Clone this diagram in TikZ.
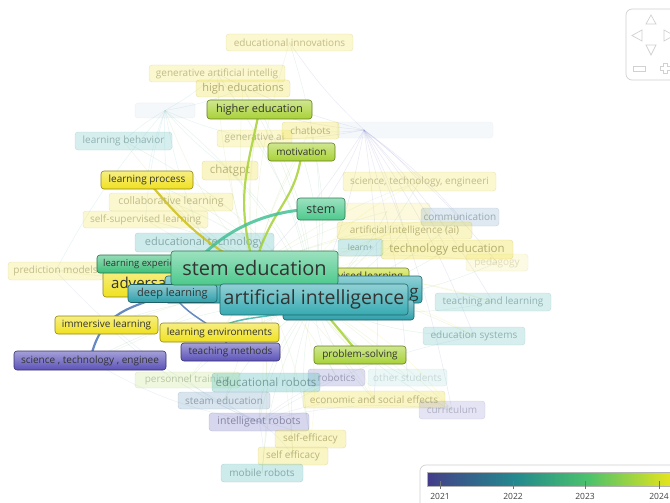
\documentclass[tikz,border=0pt]{standalone}
\usepackage{fontspec}
\setmainfont{Open Sans}
\usetikzlibrary{calc}
\definecolor{cY}{HTML}{F0E11E}
\definecolor{cL}{HTML}{A8D236}
\definecolor{cSup}{HTML}{C5DB30}
\definecolor{cG}{HTML}{4CC98C}
\definecolor{cLE}{HTML}{3EBF7A}
\definecolor{cT}{HTML}{36AAB2}
\definecolor{cDL}{HTML}{2E9FAA}
\definecolor{cP}{HTML}{5B52B8}
\definecolor{fy}{HTML}{F0E040}
\definecolor{ft}{HTML}{5FBFBF}
\definecolor{fp}{HTML}{7A7AC8}
\definecolor{fb}{HTML}{7FA8C8}
\definecolor{fg}{HTML}{C0E480}
\definecolor{vb0}{HTML}{433A8A}
\definecolor{vb1}{HTML}{3F4A8A}
\definecolor{vb2}{HTML}{23898E}
\definecolor{vb3}{HTML}{4CC26C}
\definecolor{vb4}{HTML}{DFE31F}
\definecolor{vb5}{HTML}{F2E51D}
\pgfdeclarehorizontalshading{vbar}{100bp}{color(0bp)=(vb0); color(25bp)=(vb0); color(27.5bp)=(vb1); color(42bp)=(vb2); color(56bp)=(vb3); color(71bp)=(vb4); color(75bp)=(vb5); color(100bp)=(vb5)}
\pgfdeclarelayer{bg}
\pgfdeclarelayer{fedges}
\pgfdeclarelayer{fade}
\pgfdeclarelayer{sedges}
\pgfsetlayers{bg,fedges,fade,sedges,main}
\begin{document}
\begin{tikzpicture}[x=1pt,y=-1pt,
 kw/.style={rounded corners=3pt, draw=#1!60!black, line width=0.6pt, top color=#1!55!white, bottom color=#1, text=black!80, inner xsep=2pt, inner ysep=0pt},
 fk/.style n args={3}{rounded corners=3pt, draw=#1!75!black, draw opacity=#2, fill=#1, fill opacity=#2, text=#1!45!black, text opacity=#3, inner xsep=2pt, inner ysep=0pt},
 fs/.style={font=\fontsize{#1}{#1}\selectfont},
 sz/.style 2 args={minimum width=#1pt, minimum height=#2pt},
 sedge/.style={line width=2.2pt, draw opacity=0.85},
 fe/.style={draw=#1, draw opacity=0.16, line width=0.5pt},
 ui/.style={draw=black!18, line width=0.7pt}
]
\useasboundingbox (0,0) rectangle (670,503);
\begin{pgfonlayer}{bg}
\fill[white] (0,0) rectangle (670,503);
\end{pgfonlayer}

% ---------- faded labels ----------
\begin{pgfonlayer}{fade}
\node[fk={fb}{0.08}{0.1}, sz={60}{15}] (hub1) at (165,110.5) {};
\node[fk={fb}{0.07}{0.1}, sz={156}{16}] (hub2) at (415,130) {};
\coordinate (hub2f) at (364,130);
\node[fk={fy}{0.18}{0.2}, sz={86}{17}] (hub3) at (387,211.5) {};
\node[fk={fy}{0.25}{0.4}, sz={127}{17}, fs=10] (edinn) at (289.5,42.5) {educational innovations};
\node[fk={fy}{0.25}{0.4}, sz={136}{17}, fs=10] (geai) at (217,73.5) {generative artificial intellig};
\node[fk={fy}{0.3}{0.5}, sz={94}{17}, fs=11] (hiedu) at (243,88.5) {high educations};
\node[fk={ft}{0.25}{0.4}, sz={97}{18}, fs=10] (lbeh) at (123.5,141) {learning behavior};
\node[fk={fy}{0.25}{0.4}, sz={75}{17}, fs=10] (genai) at (254.5,138.5) {generative ai};
\node[fk={fy}{0.3}{0.45}, sz={57}{17}, fs=10] (chatb) at (310.5,130.5) {chatbots};
\node[fk={fy}{0.3}{0.45}, sz={56}{19}, fs=11.5] (chatgpt) at (230,170.5) {chatgpt};
\node[fk={fy}{0.25}{0.4}, sz={124}{18}, fs=10.5] (collab) at (171,202) {collaborative learning};
\node[fk={fy}{0.25}{0.4}, sz={125}{17}, fs=10] (selfsup) at (145.5,219.5) {self-supervised learning};
\node[fk={fy}{0.25}{0.4}, sz={153}{19}, fs=10] (sci1) at (419.5,181.5) {science, technology, engineeri};
\node[fk={fb}{0.25}{0.4}, sz={78}{18}, fs=10] (comm) at (460,217) {communication};
\node[fk={fy}{0.3}{0.45}, sz={135}{17}, fs=10] (aiai) at (404.5,230.5) {artificial intelligence (ai)};
\node[fk={ft}{0.3}{0.45}, sz={45}{17}, fs=8.5] (learnplus) at (360.5,247.5) {learn+};
\node[fk={fy}{0.35}{0.5}, sz={132}{19}, fs=11.5] (techedu) at (447,249.5) {technology education};
\node[fk={fy}{0.15}{0.2}, sz={62}{17}, fs=10] (pedag) at (497,262.5) {pedagogy};
\node[fk={ft}{0.3}{0.45}, sz={139}{19}, fs=11] (edtech) at (204.5,242.5) {educational technology};
\node[fk={fy}{0.25}{0.4}, sz={95}{18}, fs=10] (pred) at (55.5,271) {prediction models};
\node[fk={ft}{0.25}{0.4}, sz={116}{18}, fs=10] (tandl) at (493,302) {teaching and learning};
\node[fk={ft}{0.25}{0.4}, sz={102}{18}, fs=10] (edsys) at (474,336) {education systems};
\node[fk={fg}{0.25}{0.35}, sz={105}{16}, fs=10] (pers) at (187.5,380) {personnel training};
\node[fk={fp}{0.25}{0.4}, sz={57}{17}, fs=10] (robot) at (336.5,377.5) {robotics};
\node[fk={ft}{0.12}{0.2}, sz={79}{17}, fs=10] (others) at (407.5,377.5) {other students};
\node[fk={ft}{0.35}{0.5}, sz={108}{19}, fs=11.5] (edrob) at (266,382.5) {educational robots};
\node[fk={fb}{0.3}{0.45}, sz={92}{17}, fs=10] (steam) at (224,400.5) {steam education};
\node[fk={fy}{0.3}{0.45}, sz={142}{17}, fs=10] (econ) at (374,399.5) {economic and social effects};
\node[fk={fp}{0.2}{0.3}, sz={66}{18}, fs=10] (curr) at (452,410) {curriculum};
\node[fk={fp}{0.3}{0.5}, sz={100}{18}, fs=10.5] (introb) at (259,422) {intelligent robots};
\node[fk={fy}{0.3}{0.45}, sz={71}{18}, fs=10] (seff1) at (310.5,439) {self-efficacy};
\node[fk={fy}{0.3}{0.45}, sz={70}{18}, fs=10] (seff2) at (293,456) {self efficacy};
\node[fk={ft}{0.3}{0.45}, sz={82}{18}, fs=10] (mob) at (262,473) {mobile robots};
\end{pgfonlayer}

% ---------- strong labels ----------
\node[kw=cL, sz={105}{19}, fs=11] (hied) at (259.5,109.5) {higher education};
\node[kw=cL, sz={67}{18}, fs=10] (motiv) at (301.5,152) {motivation};
\node[kw=cY, sz={92}{18}, fs=10] (learnp) at (147,180) {learning process};
\node[kw=cG, sz={48}{22}, fs=12.5] (stem) at (321,209) {stem};
\node[kw=cY, sz={72}{26}] (adv) at (139,284) {};
\node[anchor=west, fs=15, text=black!80, inner sep=0pt] (advt) at (111,283) {adversarial};
\node[kw=cLE, sz={84}{18}] (lexp) at (139,264) {};
\node[anchor=west, fs=9.5, text=black!80, inner sep=0pt] (lexpt) at (103,264) {learning experience};
\node[kw=cSup, sz={119}{16}] (sup) at (349.5,276) {};
\node[anchor=east, fs=10, text=black!80, inner sep=0pt] (supt) at (403,276.5) {supervised learning};
\node[kw=cT, sz={257}{27}] (ml) at (293.5,289.5) {};
\node[anchor=base east, fs=17, text=black!80, inner sep=0pt] (mlt) at (419,297) {machine learning};
\node[kw=cDL, sz={131}{20}] (mlb) at (348.5,310) {};
\node[kw=cDL, sz={89}{18}, fs=11] (dl) at (172.5,293.5) {deep learning};
\node[kw=cG, sz={167}{34}, fs=20] (stemed) at (254.5,268) {stem education};
\node[kw=cT, sz={188}{31}, fs=19.5] (ai) at (314,299.5) {artificial intelligence};
\node[kw=cY, sz={103}{18}, fs=10] (imm) at (106.5,325) {immersive learning};
\node[kw=cY, sz={119}{19}, fs=10] (lenv) at (219.5,332.5) {learning environments};
\node[kw=cP, sz={99}{18}, fs=10] (tmeth) at (230.5,352) {teaching methods};
\node[kw=cP, sz={152}{19}, fs=10] (sci2) at (90,360.5) {science , technology , enginee};
\node[kw=cL, sz={92}{18}, fs=10] (psolve) at (360,355) {problem-solving};

% ---------- faint network ----------
\begin{pgfonlayer}{fedges}
\foreach \t in {edinn,geai,hiedu,lbeh,genai,chatb,chatgpt,collab,selfsup,sci1,comm,aiai,learnplus,techedu,pedag,edtech,pred,tandl,edsys,pers,robot,others,edrob,steam,econ,curr,introb,seff1,seff2,mob,hied,motiv,learnp,imm,lenv,tmeth,sci2,psolve,hub1,hub3}{
  \draw[fe=cY!60!cT] (stemed.center) to[bend left=8] (\t.center);
  \draw[fe=cT!70!cY] (ai.center) to[bend right=12] (\t.center);
}
\foreach \t in {edinn,chatb,sci1,comm,techedu,tandl,edsys,aiai,genai,hied,stem,pedag,econ,curr,others,geai,stemed,ai}{
  \draw[fe=fp] (hub2f) to[bend left=6] (\t.center);
}
\foreach \t in {lbeh,learnp,collab,selfsup,hiedu,geai,edtech,pred,chatgpt,genai}{
  \draw[fe=ft] (hub1.center) to[bend right=6] (\t.center);
}
\foreach \t in {steam,mob,pers,seff1,seff2,econ,robot,curr,edrob,edsys,pred,sci2,imm}{
  \draw[fe=fb] (introb.center) to[bend left=10] (\t.center);
}
\foreach \t in {sci1,aiai,techedu,tandl,edsys,econ,seff1,curr,comm}{
  \draw[fe=cY] (ml.center) to[bend left=15] (\t.center);
}
\end{pgfonlayer}

% ---------- strong links ----------
\begin{pgfonlayer}{sedges}
\draw[sedge, draw=cL] (hied.center) .. controls +(-12,60) and +(-20,-70) .. (stemed.center);
\draw[sedge, draw=cL] (motiv.center) .. controls +(-5,50) and +(15,-60) .. (stemed.center);
\draw[sedge, draw=cY!85!black] (learnp.center) .. controls +(25,30) and +(-50,-20) .. (stemed.center);
\draw[sedge, draw=cG!70!cT, line width=3pt] (stem.center) .. controls +(-70,0) and +(30,-50) .. (dl.center);
\draw[sedge, draw=cL] (ai.center) -- (psolve.center);
\draw[sedge, draw=cP!60!cT] (sci2.center) .. controls +(10,-45) and +(-50,15) .. (dl.center);
\draw[sedge, draw=cP!60!cT, line width=1.5pt] (tmeth.center) .. controls +(-10,-30) and +(20,30) .. (dl.center);
\draw[sedge, draw=cT!70!cG, line width=1.5pt] (lenv.center) .. controls +(0,-20) and +(0,20) .. (ai.center);
\end{pgfonlayer}

% ---------- navigation widget ----------
\draw[ui, fill=white, rounded corners=6pt] (626,9) rectangle (690,80);
\draw[ui] (646,24) -- (656,24) -- (651,15) -- cycle;
\draw[ui] (646,45) -- (656,45) -- (651,55) -- cycle;
\draw[ui] (642,30) -- (642,41) -- (632,35.5) -- cycle;
\draw[ui] (664,30) -- (664,41) -- (674,35.5) -- cycle;
\draw[ui] (633,66.5) rectangle (645,71.5);
\draw[ui] (663,63) -- (667,63) -- (667,66) -- (670,66) -- (670,70) -- (667,70) -- (667,73) -- (663,73) -- (663,70) -- (660,70) -- (660,66) -- (663,66) -- cycle;

% ---------- legend ----------
\draw[ui, fill=white, rounded corners=6pt] (420,465) rectangle (700,520);
\node[shading=vbar, draw=black!30, line width=0.4pt, minimum width=260pt, minimum height=14pt, inner sep=0pt] (bar) at (557,479) {};
\foreach \x/\yr in {440/2021, 513/2022, 585/2023, 659/2024}{
  \draw[black!55, line width=0.6pt] (\x,481) -- (\x,489);
  \node[fs=8.5, text=black!75, inner sep=0pt] (y\yr) at (\x,496) {\yr};
}
\end{tikzpicture}
\end{document}
